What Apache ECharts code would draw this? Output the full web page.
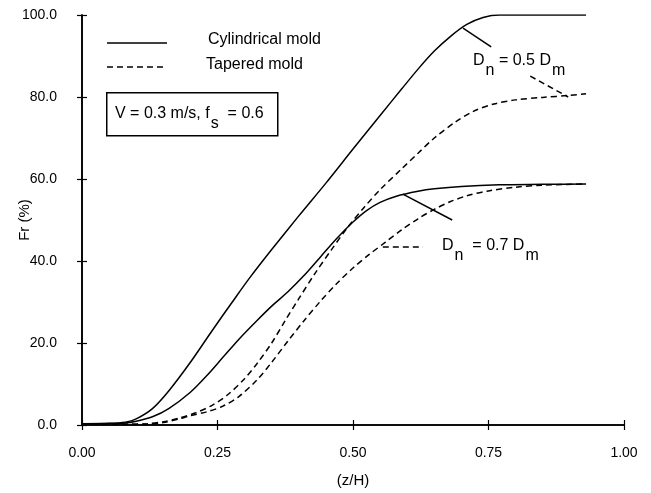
<!DOCTYPE html>
<html>
<head>
<meta charset="utf-8">
<script src="https://cdn.jsdelivr.net/npm/echarts@6/dist/echarts.min.js"></script>
<style>
  html, body { margin: 0; padding: 0; background: #fff; }
  #chart { width: 651px; height: 493px; }
</style>
</head>
<body>
<div id="chart"></div>
<script>
// Cylindrical mold, Dn = 0.5 Dm
var cyl05X = [0, 0.05, 0.08, 0.1, 0.13, 0.16, 0.2, 0.24, 0.28, 0.31, 0.35, 0.4, 0.45, 0.5, 0.55, 0.59, 0.62, 0.65, 0.68, 0.71, 0.74, 0.77, 0.85, 0.93];
var cyl05Y = [0.3, 0.4, 0.7, 1.5, 4, 8.3, 15.3, 23, 30.5, 36, 42.8, 51, 59, 67.3, 75.5, 82, 86.8, 91.2, 94.8, 97.7, 99.4, 100, 100, 100];
// Cylindrical mold, Dn = 0.7 Dm
var cyl07X = [0, 0.08, 0.1, 0.13, 0.16, 0.2, 0.23, 0.26, 0.29, 0.323, 0.35, 0.38, 0.41, 0.44, 0.47, 0.5, 0.525, 0.55, 0.58, 0.62, 0.65, 0.7, 0.77, 0.85, 0.93];
var cyl07Y = [0.3, 0.5, 0.9, 2, 4, 8, 12, 16.5, 21, 25.5, 29, 32.5, 36.5, 41, 45.5, 49.5, 52.3, 54.3, 55.8, 57, 57.6, 58.2, 58.6, 58.7, 58.8];
// Tapered mold, Dn = 0.5 Dm
var tap05X = [0, 0.08, 0.12, 0.15, 0.18, 0.21, 0.24, 0.27, 0.3, 0.323, 0.35, 0.375, 0.4, 0.43, 0.46, 0.49, 0.52, 0.55, 0.59, 0.62, 0.65, 0.69, 0.722, 0.76, 0.8, 0.85, 0.9, 0.93];
var tap05Y = [0.2, 0.2, 0.3, 0.8, 1.7, 3, 4.8, 7.5, 11.3, 15, 20, 25.5, 30.8, 37, 42.7, 48.2, 53, 57.4, 62.5, 66.3, 70, 74, 76.5, 78.3, 79.3, 79.9, 80.4, 80.8];
// Tapered mold, Dn = 0.7 Dm
var tap07X = [0, 0.08, 0.12, 0.15, 0.18, 0.2, 0.23, 0.26, 0.29, 0.323, 0.35, 0.38, 0.41, 0.44, 0.47, 0.5, 0.53, 0.56, 0.59, 0.62, 0.65, 0.68, 0.71, 0.75, 0.8, 0.85, 0.93];
var tap07Y = [0.2, 0.2, 0.2, 0.6, 1.5, 2.3, 3.2, 4.6, 7, 11, 15.3, 20.5, 25.5, 30.2, 34.5, 38.3, 41.6, 44.6, 47.6, 50.3, 52.6, 54.5, 55.9, 57.1, 58, 58.5, 58.8];

// leader lines of the two labels, in data units [x1, y1, x2, y2]
var leader05Solid = [0.703, 96.8, 0.755, 92.2];
var leader05Dash = [0.827, 85.1, 0.897, 80.0];
var leader07Solid = [0.592, 56.3, 0.683, 50.0];
var leader07Dash = [0.555, 43.4, 0.629, 43.4];

var xTicks = [0, 0.25, 0.5, 0.75, 1];
var yTicks = [0, 20, 40, 60, 80, 100];
var legendNames = ['Cylindrical mold', 'Tapered mold'];

var FONT = '"Liberation Sans", Arial, sans-serif';
var DASH = [6, 4];

function pairs(xs, ys) {
    var out = [];
    for (var i = 0; i < xs.length; i++) {
        out.push([xs[i], ys[i]]);
    }
    return out;
}

function leader(seg, dashed) {
    return {
        silent: true,
        symbol: 'none',
        label: { show: false },
        lineStyle: { color: '#000', width: 1.5, type: dashed ? DASH : 'solid' },
        data: [[{ coord: [seg[0], seg[1]] }, { coord: [seg[2], seg[3]] }]]
    };
}

function lineSeries(name, data, dashed, mark) {
    return {
        name: name,
        type: 'line',
        data: data,
        symbol: 'none',
        smooth: 0.3,
        lineStyle: { color: '#000', width: 1.5, type: dashed ? DASH : 'solid' },
        itemStyle: { color: '#000' },
        markLine: mark
    };
}

function subText(left, top, text) {
    return {
        type: 'text',
        left: left,
        top: top,
        style: {
            text: text,
            rich: {
                a: { fontFamily: FONT, fontSize: 16, fill: '#000', verticalAlign: 'top', lineHeight: 18 },
                s: { fontFamily: FONT, fontSize: 16, fill: '#000', verticalAlign: 'top', lineHeight: 18, padding: [10, 0, 0, 1] }
            }
        }
    };
}

var myChart = echarts.init(document.getElementById('chart'));

var axisLineStyle = { show: true, lineStyle: { color: '#000', width: 1.6 } };
var tickStyle = { show: true, inside: true, length: 5, lineStyle: { color: '#000', width: 1.2 } };

var option = {
    backgroundColor: '#fff',
    animation: false,
    grid: { left: 82, right: 27, top: 15, bottom: 68, containLabel: false },
    xAxis: [{
        type: 'value',
        min: 0,
        max: 1,
        interval: 0.25,
        name: '(z/H)',
        nameLocation: 'middle',
        nameGap: 48,
        nameMoveOverlap: false,
        nameTextStyle: { fontFamily: FONT, fontSize: 15, color: '#000' },
        axisLine: axisLineStyle,
        axisTick: tickStyle,
        splitLine: { show: false },
        axisLabel: {
            margin: 21,
            fontFamily: FONT,
            fontSize: 14,
            color: '#000',
            formatter: function (v) { return xTicks.indexOf(v) >= 0 ? v.toFixed(2) : ''; }
        }
    }, {
        type: 'value',
        position: 'top',
        min: 0,
        max: 1,
        interval: 0.25,
        axisLine: axisLineStyle,
        axisTick: tickStyle,
        splitLine: { show: false },
        axisLabel: { show: false }
    }],
    yAxis: [{
        type: 'value',
        min: 0,
        max: 100,
        interval: 20,
        name: 'Fr (%)',
        nameLocation: 'middle',
        nameGap: 50,
        nameMoveOverlap: false,
        nameTextStyle: { fontFamily: FONT, fontSize: 15, color: '#000' },
        axisLine: axisLineStyle,
        axisTick: tickStyle,
        splitLine: { show: false },
        axisLabel: {
            margin: 25,
            fontFamily: FONT,
            fontSize: 14,
            color: '#000',
            formatter: function (v) { return yTicks.indexOf(v) >= 0 ? v.toFixed(1) : ''; }
        }
    }, {
        type: 'value',
        position: 'right',
        min: 0,
        max: 100,
        interval: 20,
        axisLine: axisLineStyle,
        axisTick: tickStyle,
        splitLine: { show: false },
        axisLabel: { show: false }
    }],
    series: [
        lineSeries('Cylindrical mold', pairs(cyl05X, cyl05Y), false, leader(leader05Solid, false)),
        lineSeries('Cylindrical mold', pairs(cyl07X, cyl07Y), false, leader(leader07Solid, false)),
        lineSeries('Tapered mold', pairs(tap05X, tap05Y), true, leader(leader05Dash, true)),
        lineSeries('Tapered mold', pairs(tap07X, tap07Y), true, leader(leader07Dash, true))
    ],
    graphic: [
        // legend
        { type: 'line', shape: { x1: 107, y1: 43, x2: 167, y2: 43 }, style: { stroke: '#000', lineWidth: 1.5 } },
        { type: 'line', shape: { x1: 107, y1: 67, x2: 167, y2: 67 }, style: { stroke: '#000', lineWidth: 1.5, lineDash: DASH } },
        { type: 'text', left: 208, top: 32, style: { text: legendNames[0], fontFamily: FONT, fontSize: 16, fill: '#000' } },
        { type: 'text', left: 206, top: 57, style: { text: legendNames[1], fontFamily: FONT, fontSize: 16, fill: '#000' } },
        // parameter box
        {
            type: 'rect',
            left: 106,
            top: 92,
            shape: { width: 171, height: 43 },
            style: { fill: '#fff', stroke: '#000', lineWidth: 1.5 }
        },
        subText(115, 106, '{a|V = 0.3 m/s, f}{s|s}{a|  = 0.6}'),
        subText(473, 53, '{a|D}{s|n}{a| = 0.5 D}{s|m}'),
        subText(442, 238, '{a|D}{s|n}{a|  = 0.7 D}{s|m}')
    ]
};

myChart.setOption(option);
</script>
</body>
</html>
